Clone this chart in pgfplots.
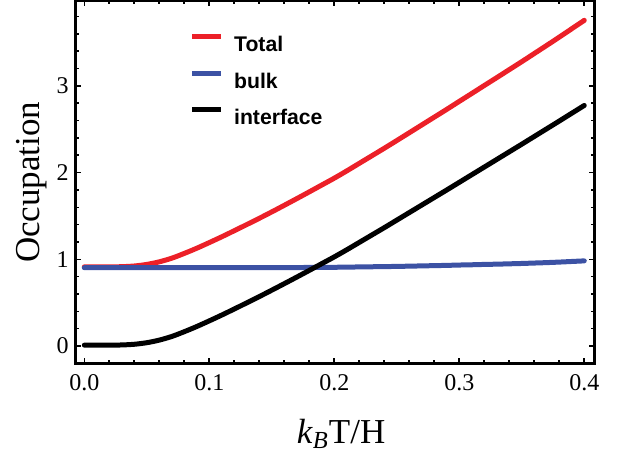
\documentclass[border=0pt]{standalone}
\usepackage{fontspec}
\setmainfont{Liberation Serif}
\newfontfamily\legfont{Liberation Sans}
\usepackage{pgfplots}
\usepackage{pgfplotstable}
\pgfplotsset{compat=1.18}
\definecolor{cred}{RGB}{236,32,40}
\definecolor{cblue}{RGB}{60,82,164}

\pgfplotstableread{
x total bulk interface
0.00 0.913 0.903 0.010
0.01 0.913 0.903 0.010
0.02 0.913 0.903 0.010
0.03 0.915 0.903 0.012
0.04 0.923 0.903 0.020
0.05 0.941 0.903 0.038
0.06 0.971 0.903 0.068
0.07 1.013 0.903 0.110
0.08 1.068 0.903 0.165
0.09 1.128 0.903 0.225
0.10 1.193 0.903 0.290
0.11 1.260 0.903 0.357
0.12 1.330 0.903 0.427
0.13 1.401 0.903 0.498
0.14 1.473 0.903 0.570
0.15 1.547 0.903 0.644
0.16 1.623 0.904 0.719
0.17 1.700 0.905 0.795
0.18 1.778 0.906 0.872
0.19 1.857 0.907 0.950
0.20 1.936 0.908 1.028
0.21 2.020 0.910 1.110
0.22 2.107 0.912 1.195
0.23 2.194 0.914 1.280
0.24 2.281 0.916 1.365
0.25 2.370 0.918 1.452
0.26 2.460 0.921 1.539
0.27 2.550 0.924 1.626
0.28 2.640 0.927 1.713
0.29 2.730 0.930 1.800
0.30 2.822 0.934 1.888
0.31 2.913 0.937 1.976
0.32 3.005 0.941 2.064
0.33 3.096 0.944 2.152
0.34 3.188 0.948 2.240
0.35 3.280 0.952 2.328
0.36 3.374 0.957 2.417
0.37 3.468 0.962 2.506
0.38 3.563 0.968 2.595
0.39 3.660 0.975 2.685
0.40 3.757 0.982 2.775
}\datatab

\begin{document}
\begin{tikzpicture}
\begin{axis}[
  at={(37.85pt,43.75pt)}, anchor=south west,
  scale only axis, width=259.4pt, height=181.25pt,
  xmin=-0.00688, xmax=0.4082, ymin=-0.202, ymax=3.98,
  axis line style={line width=1.4pt},
  xtick={0,0.1,0.2,0.3,0.4},
  ytick={0,1,2,3},
  minor xtick={0.02,0.04,0.06,0.08,0.12,0.14,0.16,0.18,0.22,0.24,0.26,0.28,0.32,0.34,0.36,0.38},
  minor ytick={0.2,0.4,0.6,0.8,1.2,1.4,1.6,1.8,2.2,2.4,2.6,2.8,3.2,3.4,3.6,3.8},
  tick align=inside,
  major tick length=2.6pt, minor tick length=1.6pt,
  every tick/.style={black, line width=0.8pt},
  /pgf/number format/assume math mode=true,
  xticklabel style={font=\fontsize{12}{14}\selectfont, yshift=-2pt,
    /pgf/number format/.cd, fixed, fixed zerofill, precision=1},
  yticklabel style={font=\fontsize{12}{14}\selectfont},
  xlabel={\textit{k}\textsubscript{\textit{B}}T/H},
  ylabel={Occupation},
  xlabel style={font=\fontsize{17.5}{20}\selectfont, at={(axis description cs:0.5116,-0.2193)}, anchor=base},
  ylabel style={font=\fontsize{17.5}{20}\selectfont, at={(axis description cs:-0.0698,0.5)}, anchor=base},
  legend style={at={(0.219,0.910)}, anchor=north west, draw=none, fill=none,
    inner sep=0pt, row sep=9.6pt, column sep=0pt,
    nodes={inner sep=0pt, text height=7.9pt, text depth=0pt,
      font=\legfont\bfseries\fontsize{10.6}{12}\selectfont},
    /tikz/every odd column/.append style={column sep=5.2pt}},
  legend cell align=left,
  legend image code/.code={\draw[#1, line cap=butt] (0pt,3.5pt) -- (14.5pt,3.5pt);},
]
\addplot[cred, line width=2.5pt, smooth, line cap=round] table[x=x, y=total]{\datatab};
\addlegendentry{Total}
\addplot[cblue, line width=2.5pt, smooth, line cap=round] table[x=x, y=bulk]{\datatab};
\addlegendentry{bulk}
\addplot[black, line width=2.5pt, smooth, line cap=round] table[x=x, y=interface]{\datatab};
\addlegendentry{interface}
\end{axis}
\pgfresetboundingbox
\path[use as bounding box] (0,0) rectangle (315pt,225.5pt);
\end{tikzpicture}
\end{document}
